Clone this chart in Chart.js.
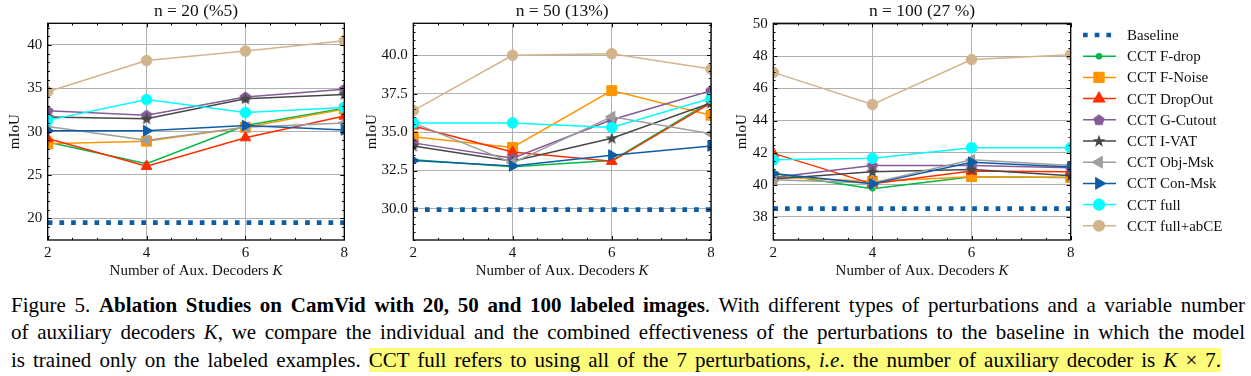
<!DOCTYPE html>
<html>
<head>
<meta charset="utf-8">
<script src="https://cdn.jsdelivr.net/npm/chart.js@4.4.1/dist/chart.umd.min.js"></script>
<style>
  body { margin: 0; background: #fff; width: 1251px; height: 376px; overflow: hidden; position: relative; font-family: "Liberation Serif", serif; }
  canvas { position: absolute; top: 0; }
  .cap { position: absolute; left: 11px; font-size: 21px; line-height: 27.5px; white-space: nowrap; color: #000; }
  mark { background: #fdfc7a; color: #000; }
</style>
</head>
<body>
<canvas id="c0" width="360" height="280" style="left:0"></canvas>
<canvas id="c1" width="360" height="280" style="left:360px"></canvas>
<canvas id="c2" width="531" height="280" style="left:720px"></canvas>

<div class="cap" id="l1" style="top:291.5px">Figure 5. <b>Ablation Studies on CamVid with 20, 50 and 100 labeled images</b>. With different types of perturbations and a variable number</div>
<div class="cap" id="l2" style="top:319px">of auxiliary decoders <i>K</i>, we compare the individual and the combined effectiveness of the perturbations to the baseline in which the model</div>
<div class="cap" id="l3" style="top:346.5px">is trained only on the labeled examples. <mark>CCT full refers to using all of the 7 perturbations, <i>i.e</i>. the number of auxiliary decoder is <i>K</i> × 7.</mark></div>

<script>
// Data
var K = [2, 4, 6, 8];
var panelTitles = ['n = 20 (%5)', 'n = 50 (13%)', 'n = 100 (27 %)'];
var seriesNames = ['Baseline', 'CCT F-drop', 'CCT F-Noise', 'CCT DropOut', 'CCT G-Cutout',
                   'CCT I-VAT', 'CCT Obj-Msk', 'CCT Con-Msk', 'CCT full', 'CCT full+abCE'];

// one value per panel (n=20, n=50, n=100)
var baseline = [19.5, 29.95, 38.5];
// each: [n=20], [n=50], [n=100], values at K = 2,4,6,8
var fDrop   = [[28.8, 26.3, 30.7, 32.7], [33.2, 32.75, 33.15, 37.0], [40.7, 39.75, 40.5, 40.45]];
var fNoise  = [[28.6, 28.9, 30.5, 32.6], [34.7, 34.0, 37.7, 36.1], [40.5, 40.2, 40.5, 40.45]];
var dropOut = [[29.2, 26.0, 29.3, 31.8], [35.4, 33.7, 33.1, 36.9], [41.95, 40.05, 40.85, 40.8]];
var gCutout = [[32.4, 31.9, 34.0, 34.9], [34.3, 33.3, 35.8, 37.7], [40.45, 41.2, 41.2, 41.05]];
var iVat    = [[31.7, 31.5, 33.8, 34.3], [34.1, 33.1, 34.6, 36.9], [40.35, 40.8, 40.95, 40.55]];
var objMsk  = [[30.6, 29.0, 30.5, 31.0], [35.6, 33.0, 36.0, 34.9], [40.3, 40.1, 41.55, 41.2]];
var conMsk  = [[30.1, 30.1, 30.7, 30.2], [33.15, 32.8, 33.5, 34.1], [40.7, 40.05, 41.4, 41.1]];
var full    = [[31.3, 33.7, 32.2, 32.8], [35.6, 35.6, 35.3, 37.2], [41.55, 41.65, 42.3, 42.3]];
var fullAbCE = [[34.6, 38.2, 39.3, 40.5], [36.4, 40.0, 40.1, 39.1], [47.0, 45.0, 47.8, 48.1]];

var xTicks = [2, 4, 6, 8];
var yTicks = [[20, 25, 30, 35, 40], [30, 32.5, 35, 37.5, 40], [38, 40, 42, 44, 46, 48, 50]];
var yMin = [17.5, 27.98, 36.55];
var yMax = [42.5, 42.08, 50.06];
var yDecimals = [0, 1, 0];
var yMinorStep = [1, 0.5, 0.5];

// custom markers
function makeMarker(kind, color) {
  var c = document.createElement('canvas');
  c.width = 14; c.height = 14;
  var g = c.getContext('2d');
  g.fillStyle = color;
  g.beginPath();
  var n = kind === 'star' ? 10 : 5;
  for (var i = 0; i < n; i++) {
    var r = kind === 'star' ? (i % 2 ? 2.7 : 6.6) : 6;
    var a = -Math.PI / 2 + i * 2 * Math.PI / n;
    var px = 7 + r * Math.cos(a), py = 7.4 + r * Math.sin(a);
    if (i === 0) g.moveTo(px, py); else g.lineTo(px, py);
  }
  g.closePath();
  g.fill();
  return c;
}

var styles = [
  { color: '#0C5DA5', width: 4.7, dash: [4.7, 7], point: 'circle', r: 0 },
  { color: '#00B945', point: 'circle', r: 2.5 },
  { color: '#FF9500', point: 'rect', r: 7 },
  { color: '#FF2C00', point: 'triangle', r: 6.2 },
  { color: '#845B97', point: makeMarker('pentagon', '#845B97'), r: 6 },
  { color: '#474747', point: makeMarker('star', '#474747'), r: 6 },
  { color: '#9e9e9e', point: 'triangle', r: 6.2, rot: -90 },
  { color: '#0C5DA5', point: 'triangle', r: 6.2, rot: 90 },
  { color: '#00FFFF', point: 'circle', r: 5.3 },
  { color: '#D2B48C', point: 'circle', r: 5.3 }
];

Chart.defaults.font.family = "'Liberation Serif', serif";
Chart.defaults.color = '#111';

// frame + inward ticks on all four sides
var frameTicks = {
  id: 'frameTicks',
  afterDatasetsDraw: function (chart) {
    var a = chart.chartArea, ctx = chart.ctx;
    var xs = chart.scales.x, ys = chart.scales.y;
    var p = chart.options.plugins.frameTicks;
    ctx.save();
    ctx.strokeStyle = '#000';
    ctx.lineWidth = 1;
    var v, px;
    for (v = 2; v <= 8.001; v += 0.5) {
      px = Math.round(xs.getPixelForValue(v)) + 0.5;
      var len = (v % 2 === 0) ? 4 : 2.2;
      ctx.beginPath();
      ctx.moveTo(px, a.bottom); ctx.lineTo(px, a.bottom - len);
      ctx.moveTo(px, a.top); ctx.lineTo(px, a.top + len);
      ctx.stroke();
    }
    var start = Math.ceil(ys.min / p.minor) * p.minor;
    for (v = start; v <= ys.max + 1e-6; v += p.minor) {
      px = Math.round(ys.getPixelForValue(v)) + 0.5;
      var major = p.major.some(function (t) { return Math.abs(t - v) < 1e-6; });
      var l2 = major ? 4 : 2.2;
      ctx.beginPath();
      ctx.moveTo(a.left, px); ctx.lineTo(a.left + l2, px);
      ctx.moveTo(a.right, px); ctx.lineTo(a.right - l2, px);
      ctx.stroke();
    }
    ctx.lineWidth = 1.3;
    ctx.strokeRect(a.left, a.top, a.right - a.left, a.bottom - a.top);
    // x axis title with italic K
    ctx.fillStyle = '#111';
    ctx.textBaseline = 'middle';
    ctx.font = "15px 'Liberation Serif'";
    var t1 = 'Number of Aux. Decoders ';
    var w1 = ctx.measureText(t1).width;
    ctx.font = "italic 15px 'Liberation Serif'";
    var w2 = ctx.measureText('K').width;
    var x0 = (a.left + a.right) / 2 - (w1 + w2) / 2;
    ctx.font = "15px 'Liberation Serif'";
    ctx.fillText(t1, x0, 271);
    ctx.font = "italic 15px 'Liberation Serif'";
    ctx.fillText('K', x0 + w1, 271);
    ctx.restore();
  }
};

// legend drawn at the right of the last panel
var sideLegend = {
  id: 'sideLegend',
  afterDraw: function (chart) {
    if (!chart.options.plugins.sideLegend.show) return;
    var ctx = chart.ctx;
    ctx.save();
    for (var i = 0; i < seriesNames.length; i++) {
      var s = styles[i];
      var y = 35 + i * 21.2;
      ctx.strokeStyle = s.color;
      ctx.fillStyle = s.color;
      ctx.lineWidth = s.width || 1.5;
      ctx.setLineDash(s.dash || []);
      ctx.beginPath();
      ctx.moveTo(363, y); ctx.lineTo(396, y);
      ctx.stroke();
      ctx.setLineDash([]);
      if (s.r > 0) {
        Chart.helpers.drawPoint(ctx, { pointStyle: s.point, rotation: s.rot || 0, radius: s.r, borderWidth: 1 }, 379, y);
      }
      ctx.fillStyle = '#111';
      ctx.font = "15px 'Liberation Serif'";
      ctx.textBaseline = 'middle';
      ctx.fillText(seriesNames[i], 407, y + 1);
    }
    ctx.restore();
  }
};

var layouts = [
  { axisW: 47.7, right: 15.7, titlePad: 6 },
  { axisW: 53.3, right: 9, titlePad: 2.7 },
  { axisW: 53.3, right: 180.3, titlePad: 12.7 }
];

for (var p = 0; p < 3; p++) {
  var seriesData = [
    K.map(function () { return baseline[p]; }),
    fDrop[p], fNoise[p], dropOut[p], gCutout[p], iVat[p], objMsk[p], conMsk[p], full[p], fullAbCE[p]
  ];
  var datasets = seriesData.map(function (vals, i) {
    var s = styles[i];
    return {
      label: seriesNames[i],
      data: vals.map(function (v, j) { return { x: K[j], y: v }; }),
      borderColor: s.color,
      backgroundColor: s.color,
      borderWidth: s.width || 1.5,
      borderDash: s.dash || [],
      borderCapStyle: 'butt',
      pointStyle: s.point,
      pointRotation: s.rot || 0,
      pointRadius: s.r,
      pointBorderWidth: 1,
      pointBackgroundColor: s.color,
      pointBorderColor: s.color,
      tension: 0,
      order: 20 - i
    };
  });

  (function (p) {
    var L = layouts[p];
    new Chart(document.getElementById('c' + p).getContext('2d'), {
      type: 'line',
      data: { datasets: datasets },
      options: {
        responsive: false,
        animation: false,
        events: [],
        layout: { padding: { left: 0, right: L.right, top: 0, bottom: 0 } },
        plugins: {
          legend: { display: false },
          tooltip: { enabled: false },
          title: {
            display: true,
            text: panelTitles[p],
            fullSize: false,
            color: '#111',
            font: { size: 17.5, weight: 'normal' },
            padding: { top: 1, bottom: 1.3 }
          },
          frameTicks: { major: yTicks[p], minor: yMinorStep[p] },
          sideLegend: { show: p === 2 }
        },
        scales: {
          x: {
            type: 'linear',
            min: 2, max: 8,
            afterBuildTicks: function (s) { s.ticks = xTicks.map(function (v) { return { value: v }; }); },
            afterFit: function (s) { s.height = 40; },
            grid: { color: '#b0b0b0', lineWidth: 1, drawTicks: false },
            border: { display: false },
            ticks: { font: { size: 15 }, padding: 4, maxRotation: 0 }
          },
          y: {
            min: yMin[p], max: yMax[p],
            afterBuildTicks: function (s) { s.ticks = yTicks[p].map(function (v) { return { value: v }; }); },
            afterFit: function (s) { s.width = L.axisW; },
            grid: { color: '#b0b0b0', lineWidth: 1, drawTicks: false },
            border: { display: false },
            ticks: {
              font: { size: 15 }, padding: 5.5,
              callback: function (v) { return Number(v).toFixed(yDecimals[p]); }
            },
            title: { display: true, text: 'mIoU', font: { size: 15 }, color: '#111', padding: { top: L.titlePad, bottom: 0 } }
          }
        }
      },
      plugins: [frameTicks, sideLegend]
    });
  })(p);
}

// justify caption lines
function fitLine(id, target) {
  var el = document.getElementById(id);
  var spaces = (el.textContent.match(/ /g) || []).length;
  var w = el.getBoundingClientRect().width;
  el.style.wordSpacing = ((target - w) / spaces) + 'px';
}
fitLine('l1', 1234);
fitLine('l2', 1234);
fitLine('l3', 1210);
</script>
</body>
</html>
